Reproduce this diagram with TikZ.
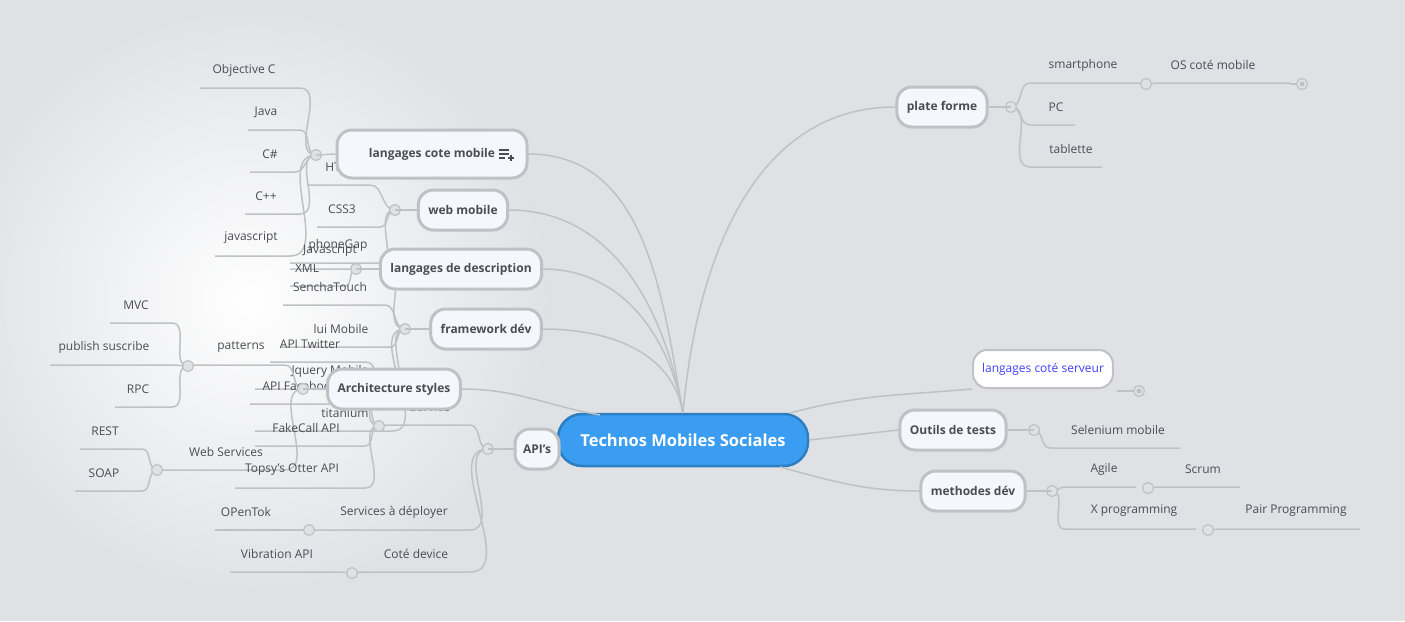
\documentclass[tikz,border=0pt]{standalone}
\usepackage{fontspec}
\setmainfont{Open Sans}
\definecolor{bg}{HTML}{DFE1E5}
\definecolor{lk}{HTML}{BFC1C4}
\definecolor{txt}{HTML}{4A4D52}
\definecolor{hub}{HTML}{3A9DF2}
\definecolor{pale}{HTML}{F4F7FB}
\tikzset{
  link/.style={draw=lk, line width=1.5pt},
  kid/.style={text=txt, font=\fontsize{12}{15}\selectfont, inner sep=0pt},
  topic/.style={draw=lk, line width=3pt, rounded corners=15pt, fill=pale, text=txt,
    font=\fontsize{12}{15}\selectfont\bfseries, inner xsep=10pt, minimum height=40pt},
  dot/.style={circle, draw=lk, line width=1.2pt, fill=bg, minimum size=11pt, inner sep=0pt}
}
\begin{document}
\begin{tikzpicture}[x=1pt,y=-1pt]
\useasboundingbox (0,0) rectangle (1405,621);
\fill[bg] (0,0) rectangle (1405,621);
\shade[inner color=white, outer color=bg] (250,300) circle (300);

% centre
\node[draw=hub!80!black, line width=2.5pt, fill=hub, rounded corners=24pt, text=white,
  font=\fontsize{16.5}{20}\selectfont\bfseries, minimum width=250pt, minimum height=52pt] (hub) at (683,440) {Technos Mobiles Sociales};

% junction points
\coordinate (jmob) at (316,155);
\coordinate (jweb) at (395,210);
\coordinate (jdesc) at (356,269);
\coordinate (jfw) at (405,329);
\coordinate (jarch) at (303,389);
\coordinate (jpat) at (188,366);
\coordinate (jws) at (157,470);
\coordinate (japi) at (488,449);
\coordinate (jsoc) at (379,426);
\coordinate (jdep) at (309,530);
\coordinate (jdev) at (352,573);
\coordinate (jpf) at (1011,107);
\coordinate (jsm) at (1146,84);
\coordinate (jout) at (1034,430);
\coordinate (jmet) at (1052,491);
\coordinate (jag) at (1148,488);
\coordinate (jxp) at (1208,530);

% left children: junction / label / x / y / left end / right end
\foreach \j/\t/\x/\y/\xl/\xr in {
  jmob/Objective C/244/70/200/300, jmob/Java/266/112/248/300, jmob/C\#/270/154/250/295,
  jmob/C++/266/196/245/300, jmob/javascript/251/238/215/290,
  jweb/HTML5/345/167/308/370, jweb/CSS3/342/209/317/380, jweb/Javascript/330/251/290/378,
  jdesc/XML/307/268/290/345,
  jfw/phoneGap/338/245/290/385, jfw/SenchaTouch/330/287/283/385, jfw/lui Mobile/341/329/280/390,
  jfw/Jquery Mobile/330/371/255/390, jfw/titanium/345/413/255/392,
  jarch/patterns/241/347/188/285, jarch/Web Services/226/452/157/285,
  jpat/MVC/136/305/110/172, jpat/publish suscribe/104/347/50/172, jpat/RPC/138/389/115/172,
  jws/REST/105/431/80/142, jws/SOAP/104/473/75/142,
  japi/Service/430/407/379/470,
  jsoc/API Twitter/310/344/270/365, jsoc/API Facebook/300/386/250/365,
  jsoc/FakeCall API/306/428/255/365, jsoc/Topsy's Otter API/292/470/235/365,
  japi/Services à déployer/394/512/309/470, japi/Coté device/416/554/352/470,
  jdep/OPenTok/246/512/215/296, jdev/Vibration API/277/554/230/340}
{
  \draw[link] (\j) to[out=180,in=0] (\xr,\y+18) -- (\xl,\y+18);
  \node[kid] at (\x,\y) {\t};
}

% right children
\foreach \j/\t/\x/\y/\xl/\xr in {
  jpf/smartphone/1083/65/1030/1140, jpf/PC/1056/107/1030/1075, jpf/tablette/1071/149/1030/1102,
  jsm/OS coté mobile/1213/65/1160/1290, jout/Selenium mobile/1118/430/1050/1180,
  jmet/Agile/1104/469/1065/1136, jmet/X programming/1134/511/1065/1196,
  jag/Scrum/1203/469/1160/1240, jxp/Pair Programming/1296/511/1220/1360}
{
  \draw[link] (\j) to[out=0,in=180] (\xl,\y+18) -- (\xr,\y+18);
  \node[kid] at (\x,\y) {\t};
}
\draw[link] (1290,84) -- (1302,84);

% junction dots
\foreach \d in {jmob,jweb,jdesc,jfw,jarch,jpat,jws,japi,jsoc,jdep,jdev,jpf,jsm,jout,jmet,jag,jxp}
  \node[dot] at (\d) {};
\node[dot] (emp1) at (1302,84) {};
\fill[lk] (emp1) circle (2.5);

% topics
\node[topic, minimum width=190pt, minimum height=48pt] (mob) at (432,154) {langages cote mobile\hspace{34pt}};
\draw[txt, line width=1.1pt] (499,150)--(509,150) (499,154)--(509,154) (499,158)--(505,158) (508,158)--(514,158) (511,155)--(511,161);
\node[topic] (web) at (463,210) {web mobile};
\node[topic] (desc) at (461,269) {langages de description};
\node[topic] (fw) at (486,329) {framework dév};
\node[topic] (arch) at (394,389) {Architecture styles};
\node[topic, inner xsep=8pt] (api) at (537,449) {API's};
\node[topic] (pf) at (942,107) {plate forme};
\node[topic] (out) at (953,430) {Outils de tests};
\node[topic] (met) at (973,491) {methodes dév};
\node[draw=lk, line width=2pt, rounded corners=14pt, fill=white, text=blue!75!white,
  font=\fontsize{12}{15}\selectfont, minimum height=38pt, inner xsep=9pt] (srv) at (1043,369) {langages coté serveur};
\node[dot] (emp2) at (1139,391) {};
\fill[lk] (emp2) circle (2.5);

% topic to junction
\foreach \a/\b in {mob/jmob, web/jweb, desc/jdesc, fw/jfw, arch/jarch, api/japi}
  \draw[link] (\a.west) -- (\b);
\foreach \a/\b in {pf/jpf, out/jout, met/jmet}
  \draw[link] (\a.east) -- (\b);
\draw[link] (1117,391) -- (emp2);

% hub to topics
\foreach \t in {mob,web,desc,fw}
  \draw[link] (683,413) to[out=100,in=0] (\t.east);
\draw[link] (600,415) to[out=170,in=0] (arch.east);
\draw[link] (683,413) to[out=85,in=180] (pf.west);
\draw[link] (790,413) to[out=15,in=185] (srv.south west);
\draw[link] (hub.east) -- (out.west);
\draw[link] (780,467) to[out=-15,in=180] (met.west);
\end{tikzpicture}
\end{document}
